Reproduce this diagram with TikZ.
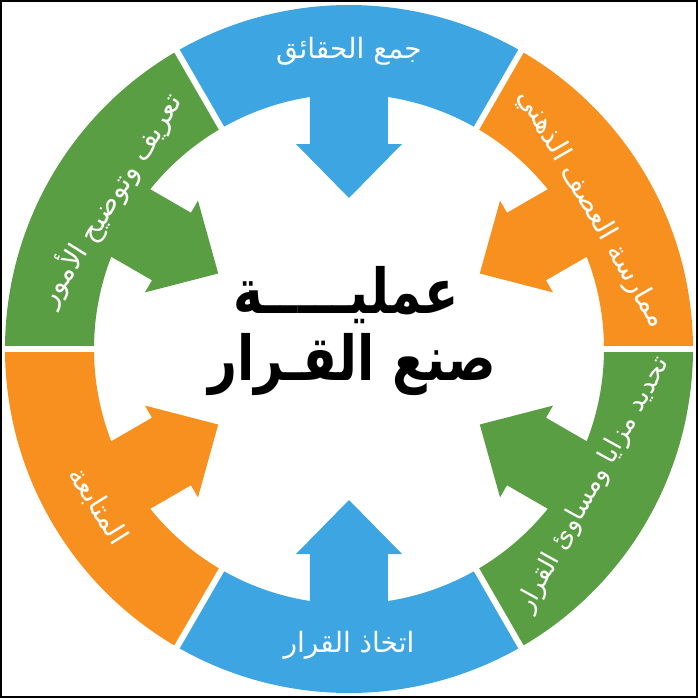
\documentclass[tikz,border=0pt]{standalone}
\usepackage{fontspec}
\newfontfamily\arabicfont[Script=Arabic]{DejaVu Sans}
\TeXXeTstate=1
\definecolor{stepblue}{RGB}{62,165,227}
\definecolor{steporange}{RGB}{247,144,30}
\definecolor{stepgreen}{RGB}{90,158,68}

\begin{document}
\begin{tikzpicture}[x=0.5pt,y=0.5pt,
  steptext/.style={text=white,inner sep=0pt,font=\arabicfont\fontsize{14}{16}\selectfont},
  titletext/.style={text=black,inner sep=0pt,anchor=base,transform shape,xscale=0.81,
    font=\arabicfont\bfseries\fontsize{31}{33}\selectfont}]
  \useasboundingbox (-349,-349) rectangle (349,349);

  % ring segments with their arrows pointing to the centre
  \foreach \a/\col in {90/stepblue,30/steporange,-30/stepgreen,-90/stepblue,210/steporange,150/stepgreen}{
    \fill[\col] (\a-30:255) arc[start angle=\a-30,end angle=\a+30,radius=255]
      -- (\a+30:344) arc[start angle=\a+30,end angle=\a-30,radius=344] -- cycle;
    \fill[\col,rotate=\a] (258,-39) -- (205,-39) -- (205,-53) -- (151,0)
      -- (205,53) -- (205,39) -- (258,39) -- cycle;
  }

  % white gaps between segments
  \foreach \b in {0,60,...,300}
    \draw[white,line width=3pt] (\b:248) -- (\b:350);

  % step labels (top half: tops outward, bottom half: tops inward)
  \node[steptext,rotate=58]  (define) at (148:282) {\beginR تعريف وتوضيح الأمور\endR};
  \node[steptext]            (facts)  at (90:298)  {\beginR جمع الحقائق\endR};
  \node[steptext,rotate=-60] (brain)  at (30:280)  {\beginR ممارسة العصف الذهني\endR};
  \node[steptext,rotate=61,font=\arabicfont\fontsize{13}{15}\selectfont]
                             (pros)   at (-29:280) {\beginR تحديد مزايا ومساوئ القرار\endR};
  \node[steptext]            (decide) at (-90:296) {\beginR اتخاذ القرار\endR};
  \node[steptext,rotate=-58] (follow) at (212:296) {\beginR المتابعة\endR};

  % centre title
  \node[titletext] (title1) at (-3,36) {\beginR عمليـــــة\endR};
  \node[titletext] (title2) at (3,-31) {\beginR صنع القـرار\endR};

  % frame
  \draw[black,line width=1pt] (-348,-348) rectangle (348,348);
\end{tikzpicture}
\end{document}
